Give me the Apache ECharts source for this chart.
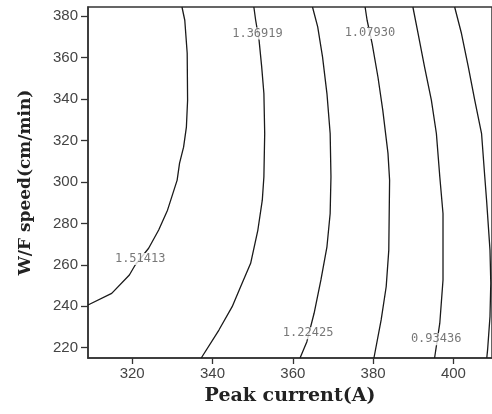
<!DOCTYPE html>
<html>
<head>
<meta charset="utf-8">
<script src="https://cdn.jsdelivr.net/npm/echarts@6/dist/echarts.min.js"></script>
<style>
  html, body { margin: 0; padding: 0; background: #fff; }
  #chart { width: 492px; height: 414px; }
</style>
</head>
<body>
<div id="chart"></div>
<script>
// Axis ticks
const xTicks = [320, 340, 360, 380, 400];
const yTicks = [220, 240, 260, 280, 300, 320, 340, 360, 380];

// Contour levels (last one unlabeled in the figure)
const levelNames = ['1.51413', '1.36919', '1.22425', '1.07930', '0.93436', '0.78942'];

// Contour lines: [Peak current, W/F speed]
const contour1 = [[309.0,240.6],[314.9,246.2],[319.3,255.1],[320.75,259.9],[324.1,268],[326.6,276.8],[328.8,286.4],[331.2,300.9],[331.8,309.1],[332.8,316.8],[333.5,326.5],[333.8,339.5],[333.7,362.2],[333.1,378.1],[332.4,384.5]];
const contour2 = [[337.2,215],[341.6,228.5],[344.9,239.8],[347,249.4],[349.5,260.7],[351.3,276.8],[352.4,291.2],[352.8,302.5],[353.0,323.4],[352.8,342.7],[352.25,355.6],[351.6,368.4],[350.75,378.1],[350.3,384.5]];
const contour3 = [[361.8,215],[363.5,222.9],[365.3,236.6],[367,252.7],[368.5,268.7],[369.3,284.8],[369.5,302.5],[369.3,323.4],[368.5,342.7],[367.4,360.4],[366.2,374.9],[364.9,384.5]];
const contour4 = [[380.2,215],[382,233.4],[383.25,249.4],[383.9,267.1],[384.1,300.9],[383.7,313.8],[382.4,334.7],[381.2,350.7],[379.75,366.8],[378.5,378.1],[378,384.5]];
const contour5 = [[395.3,215],[396.6,231.8],[397.4,252.7],[397.4,284.8],[396.6,302.5],[395.75,323.4],[394.5,339.5],[392.8,355.6],[391.2,371.7],[389.9,384.5]];
const contour6 = [[408.3,215],[408.5,218.9],[409.1,235],[409.3,251.2],[409.1,267.1],[408.25,291.2],[407.8,302.5],[407,323.4],[405.3,339.5],[403.7,355.6],[402,371.7],[400.3,384.5]];

// Where the level labels sit on the lines
const labelNames = ['1.51413', '1.36919', '1.22425', '1.07930', '0.93436'];
const labelPoints = [[322, 262.8], [351.2, 371.7], [363.8, 226.9], [379.2, 372], [395.7, 224]];

const contours = [contour1, contour2, contour3, contour4, contour5, contour6];

const chart = echarts.init(document.getElementById('chart'), null, { renderer: 'canvas' });

const lineSeries = contours.map((c, i) => ({
  type: 'line',
  name: levelNames[i],
  data: c,
  showSymbol: false,
  symbol: 'none',
  smooth: false,
  clip: true,
  z: 2,
  lineStyle: { color: '#1a1a1a', width: 1.3 },
  emphasis: { disabled: true },
  silent: true
}));

const labelSeries = {
  type: 'scatter',
  data: labelPoints.map((p, i) => ({ name: labelNames[i], value: p })),
  symbolSize: 1,
  itemStyle: { color: 'rgba(0,0,0,0)' },
  z: 5,
  silent: true,
  label: {
    show: true,
    position: 'inside',
    formatter: (p) => p.name,
    fontFamily: 'DejaVu Sans Mono',
    fontSize: 12,
    color: '#555',
    backgroundColor: '#fff',
    padding: [0, 1, 0, 1]
  }
};

chart.setOption({
  animation: false,
  backgroundColor: '#fff',
  grid: {
    left: 88, right: 0, top: 7, bottom: 56,
    show: true, borderColor: '#333', borderWidth: 1.5,
    containLabel: false, outerBoundsMode: 'none'
  },
  xAxis: {
    type: 'value',
    min: 309, max: 409.6,
    name: 'Peak current(A)',
    nameLocation: 'middle',
    nameGap: 29,
    nameTextStyle: { fontFamily: 'DejaVu Serif', fontWeight: 'bold', fontSize: 19, color: '#222' },
    axisLine: { show: true, lineStyle: { color: '#333', width: 1.5 } },
    axisTick: { show: true, length: 6, customValues: xTicks, lineStyle: { color: '#333', width: 1.3 } },
    axisLabel: { customValues: xTicks, margin: 8, fontFamily: 'Liberation Sans', fontSize: 15, color: '#444' },
    splitLine: { show: false }
  },
  yAxis: {
    type: 'value',
    min: 215, max: 384.5,
    name: 'W/F speed(cm/min)',
    nameLocation: 'middle',
    nameGap: 54,
    nameRotate: 90,
    nameTextStyle: { fontFamily: 'DejaVu Serif', fontWeight: 'bold', fontSize: 17, color: '#222' },
    axisLine: { show: true, lineStyle: { color: '#333', width: 1.5 } },
    axisTick: { show: true, length: 7, customValues: yTicks, lineStyle: { color: '#333', width: 1.3 } },
    axisLabel: { customValues: yTicks, margin: 10, fontFamily: 'Liberation Sans', fontSize: 15, color: '#444' },
    splitLine: { show: false }
  },
  series: [...lineSeries, labelSeries]
});
</script>
</body>
</html>
